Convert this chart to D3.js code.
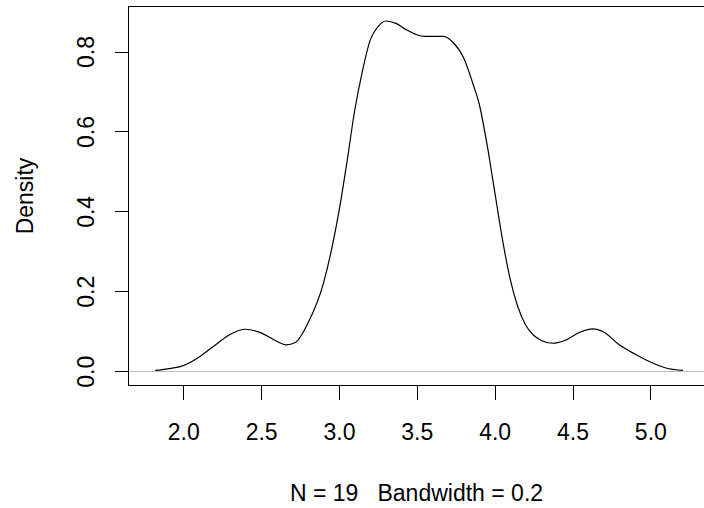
<!DOCTYPE html>
<html>
<head>
<meta charset="utf-8">
<script src="https://cdn.jsdelivr.net/npm/d3@7"></script>
<style>
  body { margin: 0; background: #fff; }
  svg { display: block; font-family: "Liberation Sans", Arial, sans-serif; }
</style>
</head>
<body>
<div id="chart"></div>
<script>
// density curve (x, density)
var densX = [1.82, 1.9, 2.0, 2.1, 2.2, 2.3, 2.4, 2.5, 2.6, 2.66, 2.72, 2.8, 2.9, 3.0, 3.05, 3.1, 3.15, 3.2, 3.25, 3.3, 3.37, 3.43, 3.5, 3.55, 3.67, 3.73, 3.8, 3.86, 3.9, 3.95, 4.0, 4.05, 4.1, 4.15, 4.2, 4.25, 4.3, 4.37, 4.45, 4.55, 4.63, 4.7, 4.8, 4.9, 5.0, 5.1, 5.21]
var densY = [0.002, 0.006, 0.014, 0.035, 0.064, 0.092, 0.105, 0.096, 0.075, 0.066, 0.072, 0.12, 0.22, 0.40, 0.52, 0.65, 0.75, 0.828, 0.862, 0.8765, 0.870, 0.855, 0.842, 0.838, 0.838, 0.824, 0.785, 0.72, 0.67, 0.57, 0.45, 0.33, 0.23, 0.16, 0.115, 0.09, 0.077, 0.070, 0.077, 0.098, 0.106, 0.098, 0.066, 0.043, 0.023, 0.008, 0.002]

var xTicks = [2.0, 2.5, 3.0, 3.5, 4.0, 4.5, 5.0]
var yTicks = [0.0, 0.2, 0.4, 0.6, 0.8]
var xDomain = [1.645, 5.351]
var yDomain = [-0.0345, 0.9115]
var subText = 'N = 19   Bandwidth = 0.2'
var yLabel = 'Density'

var W = 704, H = 508
// plot region in pixels (note: "top" is taken by window.top)
var pLeft = 128, pRight = 705, pTop = 7, pBottom = 385
var fontSize = 23

var svg = d3.select('#chart').append('svg')
    .attr('width', W)
    .attr('height', H)

var x = d3.scaleLinear().domain(xDomain).range([pLeft, pRight])
var y = d3.scaleLinear().domain(yDomain).range([pBottom, pTop])

// zero line
svg.append('line')
    .attr('x1', pLeft).attr('x2', pRight)
    .attr('y1', Math.round(y(0)) + 0.5).attr('y2', Math.round(y(0)) + 0.5)
    .attr('stroke', '#bebebe')
    .attr('stroke-width', 1)

// density line
var pts = densX.map((d, i) => [d, densY[i]])
var line = d3.line()
    .x(d => x(d[0]))
    .y(d => y(d[1]))
    .curve(d3.curveMonotoneX)

svg.append('path')
    .datum(pts)
    .attr('fill', 'none')
    .attr('stroke', '#000')
    .attr('stroke-width', 1.2)
    .attr('d', line)

// x axis
var xAxis = svg.append('g')
    .attr('transform', 'translate(0,' + (pBottom + 0.5) + ')')
    .call(d3.axisBottom(x).tickValues(xTicks).tickFormat(d3.format('.1f')).tickSize(14))
xAxis.select('.domain').remove()
xAxis.selectAll('line').attr('stroke', '#000').attr('shape-rendering', 'crispEdges')
xAxis.selectAll('text')
    .attr('font-size', fontSize)
    .attr('font-family', '"Liberation Sans", Arial, sans-serif')
    .attr('fill', '#000')
    .attr('dy', null)
    .attr('y', 439 - pBottom)

// y axis
var yAxis = svg.append('g')
    .attr('transform', 'translate(' + (pLeft + 0.5) + ',0)')
    .call(d3.axisLeft(y).tickValues(yTicks).tickFormat(d3.format('.1f')).tickSize(14))
yAxis.select('.domain').remove()
yAxis.selectAll('line').attr('stroke', '#000').attr('shape-rendering', 'crispEdges')
yAxis.selectAll('text')
    .attr('font-size', fontSize)
    .attr('font-family', '"Liberation Sans", Arial, sans-serif')
    .attr('fill', '#000')
    .attr('x', null)
    .attr('dy', null)
    .attr('text-anchor', 'middle')
    .attr('transform', 'translate(' + (93 - pLeft) + ',0) rotate(-90)')

// box
svg.append('rect')
    .attr('x', pLeft + 0.5)
    .attr('y', pTop - 0.5)
    .attr('width', pRight - pLeft)
    .attr('height', pBottom - pTop + 1)
    .attr('fill', 'none')
    .attr('stroke', '#000')
    .attr('shape-rendering', 'crispEdges')

// y label
svg.append('text')
    .attr('transform', 'translate(33,' + ((pTop + pBottom) / 2) + ') rotate(-90)')
    .attr('text-anchor', 'middle')
    .attr('font-size', fontSize)
    .attr('fill', '#000')
    .text(yLabel)

// sub title
svg.append('text')
    .attr('x', (pLeft + pRight) / 2)
    .attr('y', 501)
    .attr('text-anchor', 'middle')
    .attr('font-size', fontSize)
    .attr('fill', '#000')
    .style('white-space', 'pre')
    .text(subText)
</script>
</body>
</html>
